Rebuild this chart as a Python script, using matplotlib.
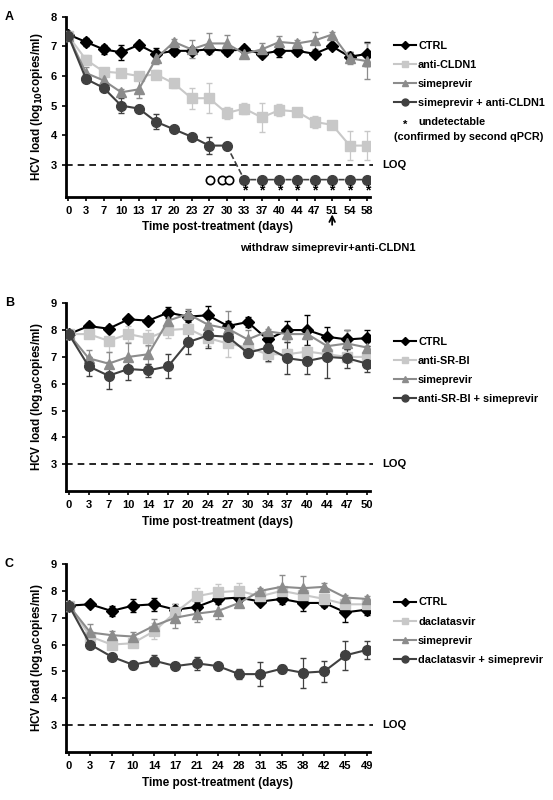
import matplotlib
matplotlib.use("Agg")
import matplotlib.pyplot as plt
from matplotlib.lines import Line2D
import numpy as np

plt.rcParams['font.family'] = ['Liberation Sans', 'DejaVu Sans']
plt.rcParams['font.weight'] = 'bold'

# Panel A
daysA = [0,3,7,10,13,17,20,23,27,30,33,37,40,44,47,51,54,58]
A_ctrl = [7.4,7.15,6.9,6.8,7.05,6.75,6.85,6.85,6.9,6.85,6.9,6.75,6.85,6.85,6.75,7.0,6.65,6.75]
A_ctrl_err = [0.1,0.15,0.15,0.25,0.1,0.2,0.15,0.1,0.1,0.15,0.1,0.1,0.2,0.15,0.1,0.1,0.15,0.4]
A_cldn = [7.35,6.55,6.15,6.1,6.0,6.05,5.75,5.25,5.25,4.75,4.9,4.6,4.85,4.8,4.45,4.35,3.65,3.65]
A_cldn_err = [0.1,0.15,0.1,0.1,0.1,0.15,0.15,0.35,0.5,0.2,0.2,0.5,0.2,0.1,0.2,0.1,0.5,0.5]
A_sime = [7.35,6.1,5.85,5.45,5.55,6.6,7.15,6.9,7.1,7.1,6.75,6.9,7.15,7.1,7.2,7.4,6.6,6.5]
A_sime_err = [0.1,0.2,0.15,0.1,0.3,0.2,0.1,0.3,0.35,0.3,0.1,0.2,0.2,0.1,0.3,0.1,0.2,0.6]
A_combo = [7.35,5.9,5.6,5.0,4.9,4.45,4.2,3.95,3.65,3.65]
A_combo_err = [0.1,0.1,0.1,0.25,0.1,0.25,0.1,0.1,0.3,0.1]
A_undet = [2.5]*8
A_open = [8.05,8.75,9.15]

# Panel B
daysB = [0,3,7,10,14,17,20,24,27,30,34,37,40,44,47,50]
B_ctrl = [7.85,8.15,8.05,8.4,8.35,8.65,8.5,8.55,8.15,8.3,7.65,8.0,8.0,7.75,7.65,7.7]
B_ctrl_err = [0.1,0.1,0.1,0.1,0.1,0.2,0.2,0.35,0.2,0.2,0.15,0.35,0.55,0.35,0.35,0.3]
B_srbi = [7.85,7.85,7.6,7.85,7.7,8.0,8.05,7.7,7.5,7.35,7.1,7.1,7.2,7.1,7.0,7.0]
B_srbi_err = [0.1,0.1,0.4,0.3,0.3,0.3,0.3,0.3,0.5,0.3,0.3,0.2,0.2,0.2,0.2,0.2]
B_sime = [7.85,6.95,6.75,7.0,7.1,8.35,8.6,8.2,8.05,7.65,7.95,7.85,7.85,7.4,7.5,7.35]
B_sime_err = [0.1,0.3,0.45,0.5,0.35,0.3,0.2,0.3,0.65,0.35,0.1,0.3,0.2,0.2,0.5,0.2]
B_combo = [7.85,6.65,6.3,6.55,6.5,6.65,7.55,7.8,7.75,7.15,7.35,6.95,6.85,7.0,6.95,6.75]
B_combo_err = [0.1,0.35,0.5,0.4,0.25,0.45,0.45,0.45,0.2,0.15,0.5,0.6,0.5,0.8,0.35,0.3]

# Panel C
daysC = [0,3,7,10,14,17,21,24,28,31,35,38,42,45,49]
C_ctrl = [7.45,7.5,7.25,7.45,7.5,7.3,7.4,7.7,7.75,7.6,7.7,7.55,7.55,7.2,7.3]
C_ctrl_err = [0.1,0.1,0.2,0.25,0.25,0.2,0.2,0.2,0.15,0.1,0.2,0.3,0.15,0.35,0.2]
C_dacla = [7.45,6.3,6.0,6.05,6.5,7.2,7.8,7.95,8.0,7.8,8.0,7.85,7.7,7.5,7.5]
C_dacla_err = [0.1,0.2,0.1,0.1,0.3,0.3,0.3,0.3,0.3,0.1,0.1,0.3,0.2,0.2,0.2]
C_sime = [7.45,6.45,6.35,6.3,6.7,7.0,7.15,7.25,7.55,8.0,8.15,8.1,8.15,7.75,7.7]
C_sime_err = [0.1,0.3,0.15,0.15,0.25,0.4,0.3,0.3,0.1,0.1,0.45,0.45,0.15,0.1,0.1]
C_combo = [7.45,6.0,5.55,5.25,5.4,5.2,5.3,5.2,4.9,4.9,5.1,4.95,5.0,5.6,5.8]
C_combo_err = [0.1,0.1,0.1,0.15,0.2,0.1,0.25,0.1,0.2,0.45,0.15,0.55,0.4,0.55,0.35]

col = {'ctrl':'#000000','light':'#c8c8c8','mid':'#8c8c8c','dark':'#404040'}
STY = [(col['ctrl'],'D',6),(col['light'],'s',7),(col['mid'],'^',7),(col['dark'],'o',7)]
LSZ = [4, 5, 5, 5]

fig = plt.figure(figsize=(5.53,8.0), dpi=100)
L, W = 0.119, 0.55
axA = fig.add_axes([L, 0.754, W, 0.225])
axB = fig.add_axes([L, 0.386, W, 0.235])
axC = fig.add_axes([L, 0.060, W, 0.235])

def series(ax, y, e, k):
    c, m, ms = STY[k]
    x = np.arange(len(y))
    ax.errorbar(x, y, yerr=e, color=c, marker=m, ms=ms, lw=1.5, ecolor=c,
                elinewidth=0.9, capsize=2.5, zorder=3)

def style(ax, days, ymax, letter, labels, legy):
    for s in ['top','right']:
        ax.spines[s].set_visible(False)
    for s in ['left','bottom']:
        ax.spines[s].set_linewidth(2)
    ax.set_xlim(-0.15, len(days)-1+0.15)
    ax.set_ylim(1.92 if ymax == 8 else 2, ymax)
    ax.set_yticks(range(3, ymax+1))
    ax.set_xticks(range(len(days)))
    ax.set_xticklabels([str(d) for d in days])
    ax.tick_params(labelsize=8, length=3, width=1.2)
    ax.set_ylabel('HCV load (log$_{\\mathbf{10}}$copies/ml)', fontsize=8.5, fontweight='bold')
    ax.set_xlabel('Time post-treatment (days)', fontsize=8.5, fontweight='bold')
    ax.axhline(3, xmin=0, xmax=1.01, color='k', ls='--', lw=1.2, clip_on=False, dashes=(4,3))
    ax.text(1.04, 3, 'LOQ', transform=ax.get_yaxis_transform(), va='center', fontsize=8, fontweight='bold')
    ax.text(-0.2, 1.0, letter, transform=ax.transAxes, fontsize=9, fontweight='bold', va='center')
    handles = [Line2D([], [], color=c, marker=m, ms=s, lw=1.5) for (c, m, _), s in zip(STY, LSZ)]
    leg = fig.legend(handles, labels, loc='center left', bbox_to_anchor=(0.705, legy), frameon=False,
                     fontsize=7.8, handlelength=2.0, handletextpad=0.2, labelspacing=0.85, borderaxespad=0)
    for t in leg.get_texts():
        t.set_fontweight('bold')

# A
series(axA, A_ctrl, A_ctrl_err, 0)
series(axA, A_cldn, A_cldn_err, 1)
series(axA, A_sime, A_sime_err, 2)
series(axA, A_combo, A_combo_err, 3)
xu = np.arange(10, 10+len(A_undet))
axA.plot([9]+list(xu), [A_combo[-1]]+A_undet, color=col['dark'], ls='--', lw=1.2, zorder=2)
axA.plot(xu, A_undet, 'o', color=col['dark'], ms=7, zorder=3)
axA.plot(A_open, [2.5]*3, 'o', mfc='white', mec='k', ms=6, mew=1.2)
for x in xu:
    axA.text(x, 2.15, '*', ha='center', va='center', fontsize=10, fontweight='bold')
style(axA, daysA, 8, 'A', ['CTRL','anti-CLDN1','simeprevir','simeprevir + anti-CLDN1'], 0.907)
fig.text(0.732, 0.844, '*', fontsize=8, fontweight='bold', va='center', ha='center')
fig.text(0.756, 0.847, 'undetectable', fontsize=7.8, fontweight='bold', va='center')
fig.text(0.713, 0.829, '(confirmed by second qPCR)', fontsize=7.8, fontweight='bold', va='center')
axA.annotate('', xy=(15, 1.42), xytext=(15, 0.88), annotation_clip=False,
             arrowprops=dict(arrowstyle='->', lw=1.3, color='k'))
fig.text(0.593, 0.69, 'withdraw simeprevir+anti-CLDN1', ha='center', va='center', fontsize=8, fontweight='bold')

# B
series(axB, B_ctrl, B_ctrl_err, 0)
series(axB, B_srbi, B_srbi_err, 1)
series(axB, B_sime, B_sime_err, 2)
series(axB, B_combo, B_combo_err, 3)
style(axB, daysB, 9, 'B', ['CTRL','anti-SR-BI','simeprevir','anti-SR-BI + simeprevir'], 0.537)

# C
series(axC, C_ctrl, C_ctrl_err, 0)
series(axC, C_dacla, C_dacla_err, 1)
series(axC, C_sime, C_sime_err, 2)
series(axC, C_combo, C_combo_err, 3)
style(axC, daysC, 9, 'C', ['CTRL','daclatasvir','simeprevir','daclatasvir + simeprevir'], 0.211)

fig.savefig('out.png', dpi=100)
